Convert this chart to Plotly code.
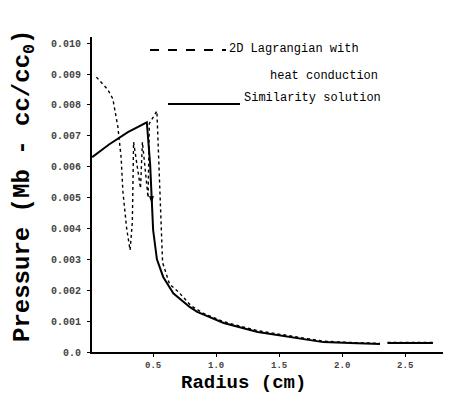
import plotly.graph_objects as go

# Similarity solution (solid)
sim_r = [0.016, 0.15, 0.30, 0.45, 0.476, 0.49, 0.50, 0.53, 0.58, 0.66, 0.79, 0.85, 1.06, 1.33,
         1.59, 1.85, 2.06, 2.30, None, 2.36, 2.72]
sim_p = [0.00631, 0.00672, 0.00712, 0.00744, 0.0061, 0.0048, 0.00395, 0.0030, 0.00243, 0.0019,
         0.00146, 0.0013, 0.00094, 0.00065, 0.00049, 0.00032, 0.00029, 0.00026, None, 0.00029, 0.00029]

# 2D Lagrangian with heat conduction (dotted)
lag_r = [0.05, 0.095, 0.14, 0.18, 0.22, 0.246, 0.26, 0.29, 0.317, 0.335, 0.345, 0.40, 0.415,
         0.46, 0.47, 0.53, 0.55, 0.575, 0.63, 0.70, 0.80, 0.90, 1.06, 1.33, 1.59, 1.85, 2.06,
         2.30, None, 2.36, 2.72]
lag_p = [0.0089, 0.0087, 0.0085, 0.0082, 0.0073, 0.0063, 0.0052, 0.0040, 0.0033, 0.0042,
         0.0068, 0.0053, 0.0068, 0.0050, 0.0074, 0.0078, 0.0055, 0.0029, 0.0022, 0.00195,
         0.0015, 0.00125, 0.00098, 0.00069, 0.00052, 0.00035, 0.00031, 0.00028, None, 0.00031, 0.00031]

arrow_idx = [3, 5]

x_ticks = [0.5, 1.0, 1.5, 2.0, 2.5]
x_labels = ["0.5", "1.0", "1.5", "2.0", "2.5"]
y_ticks = [0.0, 0.001, 0.002, 0.003, 0.004, 0.005, 0.006, 0.007, 0.008, 0.009, 0.010]
y_labels = ["0.0", "0.001", "0.002", "0.003", "0.004", "0.005", "0.006", "0.007", "0.008",
            "0.009", "0.010"]

MONO = "Liberation Mono"
OFF = 8  # page body margin
FW, FH = 453 - OFF, 404 - OFF
L, T, W, H = 92 - OFF, 37 - OFF, 351, 315


def px(x):
    return (x - OFF - L) / W


def py(y):
    return (T + H - (y - OFF)) / H


fig = go.Figure()
fig.add_trace(go.Scatter(x=lag_r, y=lag_p, mode="lines", connectgaps=False,
                         line=dict(color="black", width=1.4, dash="dot"), showlegend=False))
fig.add_trace(go.Scatter(x=sim_r, y=sim_p, mode="lines", connectgaps=False,
                         line=dict(color="black", width=2), showlegend=False))
fig.add_trace(go.Scatter(x=[sim_r[i] for i in arrow_idx], y=[sim_p[i] for i in arrow_idx],
                         mode="markers",
                         marker=dict(symbol="arrow", angleref="previous", size=8, color="black"),
                         showlegend=False))

# legend samples
fig.add_shape(type="line", xref="paper", yref="paper", x0=px(150), x1=px(226),
              y0=py(50), y1=py(50), line=dict(color="black", width=2, dash="dash"))
fig.add_shape(type="line", xref="paper", yref="paper", x0=px(168), x1=px(240),
              y0=py(104), y1=py(104), line=dict(color="black", width=2))
leg_font = dict(family=MONO, size=12, color="black")
fig.add_annotation(text="2D Lagrangian with", xref="paper", yref="paper",
                   x=px(227), y=py(49), xanchor="left", yanchor="middle",
                   showarrow=False, font=leg_font)
fig.add_annotation(text="heat conduction", xref="paper", yref="paper",
                   x=px(268), y=py(76), xanchor="left", yanchor="middle",
                   showarrow=False, font=leg_font)
fig.add_annotation(text="Similarity solution", xref="paper", yref="paper",
                   x=px(242), y=py(98), xanchor="left", yanchor="middle",
                   showarrow=False, font=leg_font)

# axis titles
fig.add_annotation(text="Pressure (Mb - cc/cc<sub>0</sub>)", xref="paper", yref="paper",
                   x=px(24), y=py(186), xanchor="center", yanchor="middle",
                   textangle=-90, showarrow=False,
                   font=dict(family=MONO, size=24, color="black", weight="bold"))
fig.add_annotation(text="Radius (cm)", xref="paper", yref="paper",
                   x=px(243), y=py(383), xanchor="center", yanchor="middle",
                   showarrow=False,
                   font=dict(family=MONO, size=19, color="black", weight="bold"))

fig.update_layout(
    width=FW, height=FH,
    margin=dict(l=L, r=FW - L - W, t=T, b=FH - T - H, autoexpand=False),
    paper_bgcolor="white", plot_bgcolor="white",
    xaxis=dict(range=[0.015, 2.8], tickvals=x_ticks, ticktext=x_labels, automargin=False,
               showgrid=False, zeroline=False, showline=True, linecolor="black", linewidth=2,
               ticks="outside", ticklen=3, tickcolor="black",
               tickfont=dict(family=MONO, size=9, color="#444", weight="bold")),
    yaxis=dict(range=[0, 0.0102], tickvals=y_ticks, ticktext=y_labels, automargin=False,
               showgrid=False, zeroline=False, showline=True, linecolor="black", linewidth=2,
               ticks="outside", ticklen=3, tickcolor="black", ticklabelstandoff=4,
               tickfont=dict(family=MONO, size=10, color="#444", weight="bold")),
)

fig.write_html("out.html")
